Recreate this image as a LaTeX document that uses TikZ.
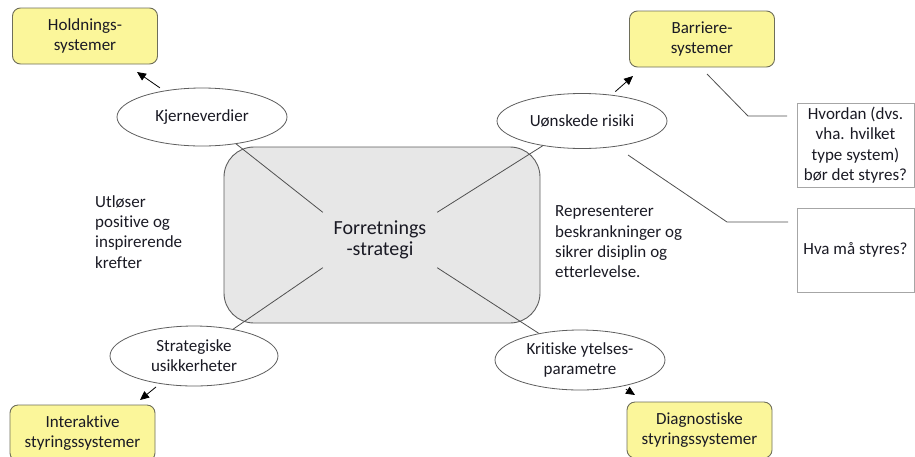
\documentclass[tikz,border=0pt]{standalone}
\usepackage{fontspec}
\setmainfont{Carlito}[Ligatures=NoCommon]
\usetikzlibrary{arrows.meta,shapes.geometric}
\definecolor{yfill}{HTML}{FBF69A}
\definecolor{boxline}{HTML}{6E6E5A}
\definecolor{rfill}{HTML}{E7E7E7}
\definecolor{rline}{HTML}{5E5E5E}
\definecolor{lnc}{HTML}{505050}
\definecolor{txt}{HTML}{1A1A24}
\begin{document}
\begin{tikzpicture}[x=1pt,y=-1pt,
  every node/.style={text=txt, font=\fontsize{17}{20.3}\selectfont},
  ybox/.style={draw=boxline, fill=yfill, rounded corners=8, line width=0.9pt,
    minimum width=145, minimum height=56, align=center, inner sep=0},
  ell/.style={draw=rline, ellipse, fill=white, line width=0.8pt, align=center,
    inner sep=0, minimum width=170, minimum height=58},
  qbox/.style={draw=gray!70, line width=0.8pt, align=center, inner sep=0,
    minimum width=117, minimum height=84},
  conn/.style={draw=lnc, line width=0.8pt},
  arr/.style={draw=black, line width=0.8pt, -{Triangle[length=9pt,width=8pt]}, shorten <=5pt}
]
\useasboundingbox (0,0) rectangle (915,456);
\clip (0,0) rectangle (915,456);

% central rectangle
\node[draw=rline, fill=rfill, rounded corners=30, line width=0.9pt,
  minimum width=316, minimum height=176] (fs) at (382,235) {};
\node[minimum width=114, minimum height=55, inner sep=0, align=center,
  font=\fontsize{20}{21.5}\selectfont] (strat) at (380,240) {Forretnings\\-strategi};

% ellipses
\node[ell] (k) at (202,117) {Kjerneverdier};
\node[ell, minimum height=55] (u) at (582,121) {Uønskede risiki};
\node[ell, minimum width=168, minimum height=60] (s) at (194,356) {Strategiske\\usikkerheter};
\node[ell, minimum height=60] (c) at (580,360) {Kritiske ytelses-\\parametre};

% yellow boxes
\node[ybox] (h) at (85,36) {Holdnings-\\systemer};
\node[ybox] (b) at (702,39) {Barriere-\\systemer};
\node[ybox] (i) at (82.5,433) {Interaktive\\styringssystemer};
\node[ybox] (d) at (699.5,430) {Diagnostiske\\styringssystemer};

% question boxes
\node[qbox] (hv) at (855.5,145) {Hvordan (dvs.\\vha. hvilket\\type system)\\bør det styres?};
\node[qbox] (hm) at (855.5,250) {Hva må styres?};

% side texts
\node[align=left, anchor=west, inner sep=0] (lt) at (95,232)
  {Utløser\\positive og\\inspirerende\\krefter};
\node[align=left, anchor=west, inner sep=0] (rt) at (555,242)
  {Representerer\\beskrankninger og\\sikrer disiplin og\\etterlevelse.};

% connectors from strategy text to ellipses
\draw[conn] (strat.north west) -- (k);
\draw[conn] (strat.north east) -- (u);
\draw[conn] (strat.south west) -- (s);
\draw[conn] (strat.south east) -- (c);

% arrows to boxes
\coordinate (hk) at (137,72);
\coordinate (bu) at (633,76);
\coordinate (is) at (140,400);
\coordinate (dc) at (635,395);
\draw[arr] (k) -- (hk);
\draw[arr] (u) -- (bu);
\draw[arr] (s) -- (is);
\draw[arr] (c) -- (dc);

% callout lines
\coordinate (b1) at (707,74);
\coordinate (b2) at (748,116);
\coordinate (b3) at (787,116);
\coordinate (u1) at (628,155);
\coordinate (u2) at (727,222);
\coordinate (u3) at (788,222);
\draw[conn] (b1) -- (b2) -- (b3);
\draw[conn] (u1) -- (u2) -- (u3);
\end{tikzpicture}
\end{document}
